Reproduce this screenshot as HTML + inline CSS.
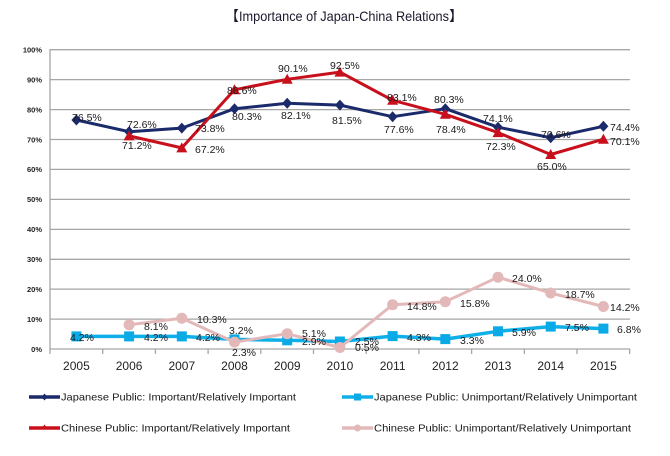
<!DOCTYPE html>
<html><head><meta charset="utf-8"><style>
html,body{margin:0;padding:0;background:#fff;}
svg{display:block;}
text{font-family:"Liberation Sans","Noto Sans CJK JP",sans-serif;}
.lb{font-size:10.5px;fill:#1a1a1a;}
.yl{font-size:7.5px;font-weight:bold;fill:#222;text-anchor:end;}
.xl{font-size:12px;fill:#222;text-anchor:middle;}
.lg{font-size:10.2px;fill:#1a1a1a;}
</style></head><body>
<svg width="670" height="456" viewBox="0 0 670 456" xmlns="http://www.w3.org/2000/svg">
<rect width="670" height="456" fill="#fff"/>
<text x="239" y="21" font-size="14" fill="#1a1a2e" text-anchor="end" font-family="Noto Sans CJK JP, sans-serif">【</text>
<text x="239" y="21" font-size="14" fill="#1a1a2e" textLength="210" lengthAdjust="spacingAndGlyphs">Importance of Japan-China Relations</text>
<text x="449" y="21" font-size="14" fill="#1a1a2e" font-family="Noto Sans CJK JP, sans-serif">】</text>
<!-- gridlines -->
<g stroke="#a6a6a6" stroke-width="1.3">
<line x1="50" y1="49.7" x2="630" y2="49.7"/>
<line x1="50" y1="79.6" x2="630" y2="79.6"/>
<line x1="50" y1="109.6" x2="630" y2="109.6"/>
<line x1="50" y1="139.5" x2="630" y2="139.5"/>
<line x1="50" y1="169.4" x2="630" y2="169.4"/>
<line x1="50" y1="199.4" x2="630" y2="199.4"/>
<line x1="50" y1="229.4" x2="630" y2="229.4"/>
<line x1="50" y1="259.3" x2="630" y2="259.3"/>
<line x1="50" y1="289.1" x2="630" y2="289.1"/>
<line x1="50" y1="319.1" x2="630" y2="319.1"/>
<line x1="50" y1="349" x2="630" y2="349"/>
<line x1="50" y1="49" x2="50" y2="349"/>
<line x1="50" y1="349" x2="50" y2="354"/>
<line x1="102.7" y1="349" x2="102.7" y2="354"/>
<line x1="155.4" y1="349" x2="155.4" y2="354"/>
<line x1="208.1" y1="349" x2="208.1" y2="354"/>
<line x1="260.8" y1="349" x2="260.8" y2="354"/>
<line x1="313.5" y1="349" x2="313.5" y2="354"/>
<line x1="366.2" y1="349" x2="366.2" y2="354"/>
<line x1="418.9" y1="349" x2="418.9" y2="354"/>
<line x1="471.6" y1="349" x2="471.6" y2="354"/>
<line x1="524.3" y1="349" x2="524.3" y2="354"/>
<line x1="577" y1="349" x2="577" y2="354"/>
<line x1="629.7" y1="349" x2="629.7" y2="354"/>
</g>
<!-- y labels -->
<text class="yl" x="42" y="52.5">100%</text>
<text class="yl" x="42" y="82.4">90%</text>
<text class="yl" x="42" y="112.4">80%</text>
<text class="yl" x="42" y="142.3">70%</text>
<text class="yl" x="42" y="172.2">60%</text>
<text class="yl" x="42" y="202.2">50%</text>
<text class="yl" x="42" y="232.2">40%</text>
<text class="yl" x="42" y="262.1">30%</text>
<text class="yl" x="42" y="291.9">20%</text>
<text class="yl" x="42" y="321.9">10%</text>
<text class="yl" x="42" y="351.8">0%</text>
<!-- x labels -->
<text class="xl" x="76.4" y="370">2005</text>
<text class="xl" x="129.1" y="370">2006</text>
<text class="xl" x="181.8" y="370">2007</text>
<text class="xl" x="234.5" y="370">2008</text>
<text class="xl" x="287.2" y="370">2009</text>
<text class="xl" x="339.9" y="370">2010</text>
<text class="xl" x="392.6" y="370">2011</text>
<text class="xl" x="445.3" y="370">2012</text>
<text class="xl" x="498" y="370">2013</text>
<text class="xl" x="550.7" y="370">2014</text>
<text class="xl" x="603.4" y="370">2015</text>

<!-- Japanese Important (navy) -->
<polyline fill="none" stroke="#1b2a6b" stroke-width="3" stroke-linejoin="round" points="76.4,120 129.1,131.7 181.8,128.1 234.5,108.7 287.2,103.3 339.9,105.1 392.6,116.7 445.3,108.7 498,127.2 550.7,137.7 603.4,126.3"/>
<g fill="#1b2a6b">
<path d="M76.4,114.5 l5,5.5 l-5,5.5 l-5,-5.5z"/>
<path d="M129.1,126.2 l5,5.5 l-5,5.5 l-5,-5.5z"/>
<path d="M181.8,122.6 l5,5.5 l-5,5.5 l-5,-5.5z"/>
<path d="M234.5,103.2 l5,5.5 l-5,5.5 l-5,-5.5z"/>
<path d="M287.2,97.8 l5,5.5 l-5,5.5 l-5,-5.5z"/>
<path d="M339.9,99.6 l5,5.5 l-5,5.5 l-5,-5.5z"/>
<path d="M392.6,111.2 l5,5.5 l-5,5.5 l-5,-5.5z"/>
<path d="M445.3,103.2 l5,5.5 l-5,5.5 l-5,-5.5z"/>
<path d="M498,121.7 l5,5.5 l-5,5.5 l-5,-5.5z"/>
<path d="M550.7,132.2 l5,5.5 l-5,5.5 l-5,-5.5z"/>
<path d="M603.4,120.8 l5,5.5 l-5,5.5 l-5,-5.5z"/>
</g>

<!-- Japanese Unimportant (light blue) -->
<polyline fill="none" stroke="#0fb0ea" stroke-width="3.5" stroke-linejoin="round" points="76.4,336.4 129.1,336.4 181.8,336.4 234.5,339.4 287.2,340.3 339.9,341.5 392.6,336.1 445.3,339.1 498,331.3 550.7,326.6 603.4,328.6"/>
<g fill="#0aaae6">
<rect x="71.4" y="331.4" width="10" height="10"/>
<rect x="124.1" y="331.4" width="10" height="10"/>
<rect x="176.8" y="331.4" width="10" height="10"/>
<rect x="229.5" y="334.4" width="10" height="10"/>
<rect x="282.2" y="335.3" width="10" height="10"/>
<rect x="334.9" y="336.5" width="10" height="10"/>
<rect x="387.6" y="331.1" width="10" height="10"/>
<rect x="440.3" y="334.1" width="10" height="10"/>
<rect x="493" y="326.3" width="10" height="10"/>
<rect x="545.7" y="321.6" width="10" height="10"/>
<rect x="598.4" y="323.6" width="10" height="10"/>
</g>

<!-- Chinese Important (red) -->
<polyline fill="none" stroke="#c8101c" stroke-width="3" stroke-linejoin="round" points="129.1,135.9 181.8,147.9 234.5,89.8 287.2,79.3 339.9,72.1 392.6,100.3 445.3,114.3 498,132.6 550.7,154.5 603.4,139.2"/>
<g fill="#c8101c">
<path d="M129.1,130.4 l5.5,10 l-11,0z"/>
<path d="M181.8,142.4 l5.5,10 l-11,0z"/>
<path d="M234.5,84.3 l5.5,10 l-11,0z"/>
<path d="M287.2,73.8 l5.5,10 l-11,0z"/>
<path d="M339.9,66.6 l5.5,10 l-11,0z"/>
<path d="M392.6,94.8 l5.5,10 l-11,0z"/>
<path d="M445.3,108.8 l5.5,10 l-11,0z"/>
<path d="M498,127.1 l5.5,10 l-11,0z"/>
<path d="M550.7,149 l5.5,10 l-11,0z"/>
<path d="M603.4,133.7 l5.5,10 l-11,0z"/>
</g>

<!-- Chinese Unimportant (pink) -->
<polyline fill="none" stroke="#e3b8b8" stroke-width="3" stroke-linejoin="round" points="129.1,324.8 181.8,318.2 234.5,342.1 287.2,333.7 339.9,347.5 392.6,304.7 445.3,301.7 498,277.2 550.7,293 603.4,306.5"/>
<g fill="#e3b8b8">
<circle cx="129.1" cy="324.8" r="5.5"/>
<circle cx="181.8" cy="318.2" r="5.5"/>
<circle cx="234.5" cy="342.1" r="5.5"/>
<circle cx="287.2" cy="333.7" r="5.5"/>
<circle cx="339.9" cy="347.5" r="5.5"/>
<circle cx="392.6" cy="304.7" r="5.5"/>
<circle cx="445.3" cy="301.7" r="5.5"/>
<circle cx="498" cy="277.2" r="5.5"/>
<circle cx="550.7" cy="293" r="5.5"/>
<circle cx="603.4" cy="306.5" r="5.5"/>
</g>

<!-- data labels -->
<g class="lb">
<text x="72" y="121">76.5%</text>
<text x="127" y="128">72.6%</text>
<text x="122" y="149">71.2%</text>
<text x="195" y="132">73.8%</text>
<text x="195" y="153">67.2%</text>
<text x="227" y="94">86.6%</text>
<text x="232" y="120">80.3%</text>
<text x="278" y="72">90.1%</text>
<text x="281" y="119">82.1%</text>
<text x="330" y="69">92.5%</text>
<text x="332" y="124">81.5%</text>
<text x="387" y="101">83.1%</text>
<text x="384" y="133">77.6%</text>
<text x="434" y="103">80.3%</text>
<text x="436" y="133">78.4%</text>
<text x="483" y="122">74.1%</text>
<text x="486" y="150">72.3%</text>
<text x="541" y="138">70.6%</text>
<text x="537" y="170">65.0%</text>
<text x="610" y="131">74.4%</text>
<text x="610" y="145">70.1%</text>
<text x="70" y="341">4.2%</text>
<text x="144" y="330">8.1%</text>
<text x="144" y="341">4.2%</text>
<text x="197" y="323">10.3%</text>
<text x="196" y="341">4.2%</text>
<text x="229" y="334">3.2%</text>
<text x="232" y="356">2.3%</text>
<text x="302" y="337">5.1%</text>
<text x="302" y="345">2.9%</text>
<text x="355" y="345">2.5%</text>
<text x="355" y="351">0.5%</text>
<text x="407" y="310">14.8%</text>
<text x="407" y="341">4.3%</text>
<text x="460" y="307">15.8%</text>
<text x="460" y="344">3.3%</text>
<text x="512" y="282">24.0%</text>
<text x="512" y="336">5.9%</text>
<text x="565" y="298">18.7%</text>
<text x="565" y="331">7.5%</text>
<text x="610" y="311">14.2%</text>
<text x="617" y="333">6.8%</text>
</g>

<!-- legend -->
<line x1="29" y1="397" x2="60" y2="397" stroke="#1b2a6b" stroke-width="3.5"/>
<path d="M44.5,393.5 l3,3.5 l-3,3.5 l-3,-3.5z" fill="#1b2a6b"/>
<text class="lg" x="61" y="400.5" textLength="235" lengthAdjust="spacingAndGlyphs">Japanese Public: Important/Relatively Important</text>

<line x1="29" y1="428" x2="60" y2="428" stroke="#c8101c" stroke-width="3.5"/>
<path d="M44.5,424.5 l3.5,5 l-7,0z" fill="#c8101c"/>
<text class="lg" x="61" y="431.5" textLength="229" lengthAdjust="spacingAndGlyphs">Chinese Public: Important/Relatively Important</text>

<line x1="342" y1="397" x2="373" y2="397" stroke="#0fb0ea" stroke-width="3.5"/>
<rect x="354" y="393.5" width="7" height="7" fill="#0aaae6"/>
<text class="lg" x="374" y="400.5" textLength="263" lengthAdjust="spacingAndGlyphs">Japanese Public: Unimportant/Relatively Unimportant</text>

<line x1="342" y1="428" x2="373" y2="428" stroke="#e3b8b8" stroke-width="3.5"/>
<circle cx="357.5" cy="428" r="3.5" fill="#e3b8b8"/>
<text class="lg" x="374" y="431.5" textLength="257" lengthAdjust="spacingAndGlyphs">Chinese Public: Unimportant/Relatively Unimportant</text>
</svg>
</body></html>
